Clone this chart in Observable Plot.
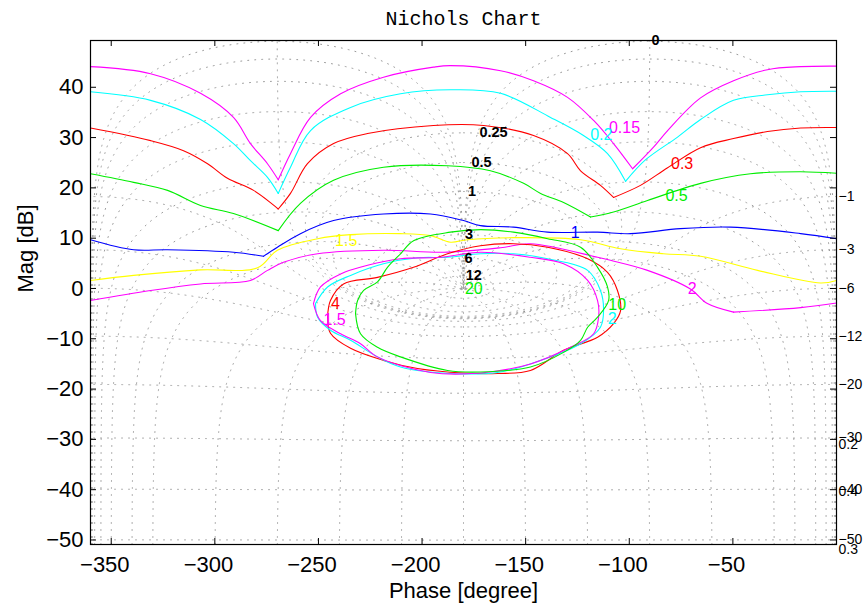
<!DOCTYPE html>
<html>
<head>
<meta charset="utf-8">
<script src="https://cdn.jsdelivr.net/npm/d3@7"></script>
<script src="https://cdn.jsdelivr.net/npm/@observablehq/plot@0.6"></script>
<style>
  body { margin: 0; background: #fff; }
  #chart svg { display: block; }
</style>
</head>
<body>
<div id="chart"></div>
<script>
// ---- open-loop frequency responses (phase in degrees, magnitude in dB), one pair per gain ----
const k015Phase = [-360, -331.0, -306.9, -291.0, -282.8, -274.6, -269.4, -263.5, -253.8, -239.3, -218.6, -194.5, -186.3, -162.1, -146.2, -129.8, -117.2, -107.6, -98.4, -88.3, -81.5, -65.6, -49.7, -33.3, -17.3, 0];
const k015Mag   = [44.1, 42.7, 38.8, 34.0, 28.8, 24.8, 21.6, 26.8, 34.0, 38.7, 42.0, 44.0, 44.3, 43.3, 41.3, 38.0, 33.4, 28.8, 23.8, 28.1, 31.4, 37.9, 41.3, 43.5, 44.1, 44.2];

const k02Phase = [-360, -331.0, -306.9, -291.0, -282.8, -274.6, -269.4, -263.5, -253.8, -234.5, -210.4, -186.3, -162.1, -138.0, -122.1, -110.5, -101.8, -92.1, -76.7, -65.6, -49.7, -33.3, -17.3, 0];
const k02Mag   = [39.1, 37.4, 33.6, 28.8, 25.4, 22.1, 18.9, 24.1, 31.4, 36.0, 38.7, 39.5, 38.8, 34.0, 30.4, 26.8, 21.3, 25.6, 30.1, 33.6, 37.4, 38.5, 39.1, 39.2];

const k03Phase = [-360, -331.0, -315.1, -303.5, -293.9, -281.3, -269.4, -263.5, -255.3, -242.7, -226.3, -194.5, -170.3, -146.2, -129.8, -123.5, -113.9, -107.6, -94.6, -81.5, -65.6, -49.7, -33.3, -17.3, 0];
const k03Mag   = [31.9, 29.4, 27.4, 24.8, 21.9, 19.5, 15.8, 18.9, 24.8, 28.8, 30.8, 32.4, 32.4, 30.4, 26.8, 23.4, 20.5, 18.1, 20.5, 24.0, 28.0, 29.8, 31.2, 31.9, 32.0];

const k05Phase = [-360, -339.2, -322.8, -306.9, -291.0, -269.4, -258.7, -242.7, -218.6, -187.7, -167.0, -151.0, -142.8, -131.7, -118.7, -107.6, -91.2, -65.6, -41.5, -17.3, 0];
const k05Mag   = [22.8, 21.1, 19.5, 16.5, 14.9, 11.5, 16.9, 21.5, 24.1, 24.4, 23.4, 20.9, 18.9, 17.1, 14.2, 15.2, 17.5, 20.9, 22.8, 23.2, 22.9];

const k1Phase = [-360, -339.2, -322.8, -291.0, -276.5, -269.8, -258.7, -242.7, -218.6, -195.9, -180.0, -171.8, -155.9, -139.4, -115.3, -99.4, -75.3, -51.1, -17.3, 0];
const k1Mag   = [9.7, 7.7, 7.7, 7.2, 6.4, 8.2, 10.9, 13.5, 14.8, 14.8, 13.5, 12.5, 12.2, 11.2, 11.2, 10.9, 11.9, 12.2, 10.9, 9.9];

const k15Phase = [-360, -339.2, -306.9, -279.4, -269.8, -250.4, -234.5, -210.4, -195.9, -186.3, -178.1, -155.9, -123.5, -104.2, -83.5, -65.6, -38.1, -7.7, 0];
const k15Mag   = [1.6, 2.6, 3.7, 4.1, 7.6, 9.9, 10.7, 10.9, 10.5, 9.2, 9.7, 10.1, 9.7, 7.9, 6.9, 6.4, 3.6, 1.1, 1.6];

const k2Phase = [-360, -331.0, -306.9, -282.8, -274.6, -266.9, -250.4, -218.6, -189.6, -162.1, -147.7, -115.3, -109.1, -91.2, -70.5, -62.3, -49.7, -17.3, 0];
const k2Mag   = [-2.4, -0.4, 0.9, 1.6, 3.6, 5.2, 6.9, 7.6, 7.2, 8.1, 8.9, 6.2, 5.6, 3.6, -0.1, -3.0, -4.7, -3.8, -2.9];

// ---- closed loci around the critical point ----
const loop4Phase = [-245.6, -244.2, -237.9, -221.5, -204.1, -187.7, -171.8, -155.9, -139.4, -120.1, -110.5, -105.7, -104.2, -107.6, -115.3, -131.7, -147.7, -163.6, -180.0, -202.2, -218.6, -234.5, -244.2, -245.6];
const loop4Mag   = [-5.7, -2.4, 0.9, 2.2, 4.2, 6.9, 8.5, 8.9, 8.2, 5.9, 3.2, -0.4, -4.4, -7.0, -9.7, -12.3, -16.3, -16.9, -16.8, -15.9, -14.3, -11.9, -8.9, -5.7];

const loop2Phase = [-251.4, -245.6, -234.5, -218.6, -202.2, -187.7, -171.8, -155.9, -139.4, -120.1, -113.9, -112.4, -113.9, -123.5, -147.7, -163.6, -186.3, -210.4, -221.5, -234.5, -244.2, -250.4, -251.4];
const loop2Mag   = [-3.0, 0.3, 2.6, 4.9, 6.1, 6.2, 6.9, 6.9, 5.9, 3.6, -0.4, -4.4, -7.7, -11.0, -15.0, -16.7, -16.9, -15.6, -13.6, -10.3, -8.3, -5.7, -3.0];

const loop15Phase = [-252.4, -249.0, -239.3, -226.3, -210.4, -191.1, -171.8, -147.7, -131.7, -120.1, -115.3, -114.8, -117.2, -128.4, -147.7, -171.8, -195.9, -221.5, -229.7, -239.3, -249.0, -252.4];
const loop15Mag   = [-3.0, 0.3, 2.9, 4.6, 5.9, 6.2, 7.2, 6.2, 4.9, 1.6, -2.4, -5.7, -9.0, -11.7, -15.0, -16.8, -16.7, -13.6, -11.0, -9.0, -6.4, -3.0];

const loop10Phase = [-232.1, -231.1, -228.2, -221.5, -216.7, -210.4, -204.1, -186.3, -171.8, -155.9, -139.4, -123.5, -115.3, -110.5, -110.0, -115.3, -120.1, -123.5, -131.7, -147.7, -171.8, -187.7, -210.4, -221.5, -229.7, -232.1];
const loop10Mag   = [-5.0, -2.4, -0.4, 1.3, 4.2, 6.9, 9.5, 11.2, 11.7, 11.2, 9.9, 8.2, 4.2, 0.3, -2.4, -5.7, -7.7, -10.3, -12.7, -15.6, -16.6, -16.3, -13.6, -11.7, -9.0, -5.0];

// ---- curve annotations ----
const curveLabelText  = ["0.15", "0.2", "0.3", "0.5", "1", "1.5", "2", "4", "1.5", "2", "10", "20"];
const curveLabelPhase = [-102.3, -113.5, -74.5, -77.2, -126.1, -236.6, -69.6, -241.8, -242.2, -108.2, -105.8, -175.0];
const curveLabelMag   = [31.9, 30.6, 24.8, 18.5, 11.1, 9.5, -0.1, -3.0, -6.2, -6.0, -3.2, 0.0];
const curveLabelColor = ["#ff00ff", "#00ffff", "#ff0000", "#00ee00", "#0000ff", "#ffff00", "#ff00ff", "#ff0000", "#ff00ff", "#00ffff", "#00ee00", "#00ee00"];

// ---- Nichols grid: closed-loop magnitudes (dB) and closed-loop phases (deg) ----
const gridMagDb = [0.25, 0.5, 1, 3, 6, 12, 0, -1, -3, -6, -12, -20, -30, -40, -50];
const gridPhaseDeg = [0.2, 0.3, 0.5, 1, 2, 5, 10, 20, 30, 60, 90, 120, 150, 180];
const gridTopLabelDb = [0.25, 0.5, 1, 3, 6, 12];
const gridTopLabelPhase = [-165.5, -171.3, -175.9, -177.3, -177.6, -175.0];
const gridSideLabelDb = [-1, -3, -6, -12, -20, -30, -40, -50];
const gridEdgeLabelText = ["0.2", "0.4", "0.3"];
const gridEdgeLabelMag = [-31.0, -40.4, -51.8];

// ---- axes ----
const xTicks = [-350, -300, -250, -200, -150, -100, -50];
const yTicks = [-50, -40, -30, -20, -10, 0, 10, 20, 30, 40];
const xDomain = [-360, 0];
const yDomain = [-50.9, 49.3];

const minus = d => (d < 0 ? "\u2212" + Math.abs(d) : String(d));

// open loop G = T/(1-T) for closed loop T = M e^{jc}
function openLoop(M, cDeg) {
  const c = cDeg * Math.PI / 180;
  const re = 1 - M * Math.cos(c), im = -M * Math.sin(c);
  const arg = Math.atan2(im, re) * 180 / Math.PI;
  return [cDeg - arg, 20 * Math.log10(M / Math.hypot(re, im))];
}

// split a polyline where it leaves the magnitude range
function clipRuns(points, lo, hi) {
  const runs = [];
  let cur = [];
  const inside = p => isFinite(p[1]) && p[1] >= lo && p[1] <= hi;
  for (let i = 0; i < points.length; i++) {
    const p = points[i];
    if (inside(p)) {
      if (!cur.length && i > 0 && isFinite(points[i - 1][1])) {
        const q = points[i - 1], edge = q[1] > hi ? hi : lo;
        const t = (edge - q[1]) / (p[1] - q[1]);
        cur.push([q[0] + t * (p[0] - q[0]), edge]);
      }
      cur.push(p);
    } else if (cur.length) {
      if (isFinite(p[1])) {
        const q = points[i - 1], edge = p[1] > hi ? hi : lo;
        const t = (edge - q[1]) / (p[1] - q[1]);
        cur.push([q[0] + t * (p[0] - q[0]), edge]);
      }
      runs.push(cur);
      cur = [];
    }
  }
  if (cur.length) runs.push(cur);
  return runs;
}

const gridRows = [];
let runId = 0;
function addRuns(points) {
  for (const run of clipRuns(points, yDomain[0], yDomain[1])) {
    runId++;
    for (const [phase, db] of run) gridRows.push({phase, db, id: runId});
  }
}

// constant closed-loop magnitude contours
const N = 3000;
for (const mdb of gridMagDb) {
  const M = Math.pow(10, mdb / 20);
  const pts = [];
  for (let i = 1; i < N; i++) {
    const t = i / N;
    const s = t - Math.sin(2 * Math.PI * t) / (2 * Math.PI);
    pts.push(openLoop(M, -360 * s));
  }
  addRuns(pts);
}

// constant closed-loop phase contours
const mSamples = [];
for (let i = 0; i <= 2000; i++) mSamples.push(Math.pow(10, -3 + 6 * i / 2000));
for (let i = 0; i <= 3000; i++) mSamples.push(0.9 + 0.2 * i / 3000);
mSamples.sort((a, b) => a - b);
for (const psi of gridPhaseDeg) {
  const sides = psi === 180 ? [-180] : [-psi, -360 + psi];
  for (const c of sides) addRuns(mSamples.map(M => openLoop(M, c)));
}

// response curves as rows; open curves are split at sharp minima so the cusps stay pointed
const curves = [
  ["a", "#ff00ff", k015Phase, k015Mag, false],
  ["b", "#00ffff", k02Phase, k02Mag, false],
  ["c", "#ff0000", k03Phase, k03Mag, false],
  ["d", "#00ee00", k05Phase, k05Mag, false],
  ["e", "#0000ff", k1Phase, k1Mag, false],
  ["f", "#ffff00", k15Phase, k15Mag, false],
  ["g", "#ff00ff", k2Phase, k2Mag, false],
  ["h", "#ff0000", loop4Phase, loop4Mag, true],
  ["i", "#00ffff", loop2Phase, loop2Mag, true],
  ["j", "#ff00ff", loop15Phase, loop15Mag, true],
  ["k", "#00ee00", loop10Phase, loop10Mag, true]
];
const curveRows = [];
for (const [id, color, ph, mg, closed] of curves) {
  let piece = 0;
  for (let i = 0; i < ph.length; i++) {
    curveRows.push({id: id + piece, color, phase: ph[i], db: mg[i]});
    const cusp = !closed && i > 0 && i < ph.length - 1 && mg[i] < mg[i - 1] - 0.7 && mg[i] < mg[i + 1] - 0.7;
    if (cusp) {
      piece++;
      curveRows.push({id: id + piece, color, phase: ph[i], db: mg[i]});
    }
  }
}

const curveLabels = curveLabelText.map((text, i) => ({text, phase: curveLabelPhase[i], db: curveLabelMag[i], color: curveLabelColor[i]}));
const topLabels = gridTopLabelDb.map((d, i) => {
  const M = Math.pow(10, d / 20);
  return {text: String(d), phase: gridTopLabelPhase[i], db: 20 * Math.log10(M / (M - 1))};
});
const sideLabels = gridSideLabelDb.map(d => {
  const M = Math.pow(10, d / 20);
  return {text: minus(d), phase: 0, db: 20 * Math.log10(M / (1 - M))};
});
const edgeLabels = gridEdgeLabelText.map((text, i) => ({text, phase: 0, db: gridEdgeLabelMag[i]}));

const frameW = 863 - 90 - 27, frameH = 603 - 40 - 59;

const chart = Plot.plot({
  width: 863,
  height: 603,
  marginLeft: 90,
  marginRight: 27,
  marginTop: 40,
  marginBottom: 59,
  x: {domain: xDomain, axis: null},
  y: {domain: yDomain, axis: null},
  style: {fontFamily: "'Liberation Sans', Arial, Helvetica, sans-serif", background: "#fff", overflow: "visible", color: "black"},
  marks: [
    Plot.line(gridRows, {x: "phase", y: "db", z: "id", stroke: "#9a9a9a", strokeWidth: 1, strokeDasharray: "1,6", curve: "linear"}),
    Plot.line(curveRows, {x: "phase", y: "db", z: "id", stroke: "color", strokeWidth: 1.1, curve: "catmull-rom"}),
    Plot.text(curveLabels, {x: "phase", y: "db", text: "text", fill: "color", fontSize: 16}),
    Plot.text(topLabels, {x: "phase", y: "db", text: "text", fill: "black", fontSize: 14.5, fontWeight: "bold"}),
    Plot.text(["0"], {x: -87.3, y: yDomain[1], fill: "black", fontSize: 14.5, fontWeight: "bold"}),
    Plot.text(sideLabels, {x: "phase", y: "db", text: "text", fill: "black", fontSize: 14, textAnchor: "start", dx: 2}),
    Plot.text(edgeLabels, {x: "phase", y: "db", text: "text", fill: "black", fontSize: 14, textAnchor: "start", dx: 2}),
    Plot.frame({stroke: "black", strokeWidth: 1.2}),
    // inward tick marks on all four sides
    Plot.tickX(xTicks, {x: d => d, insetTop: frameH - 6, stroke: "black"}),
    Plot.tickX(xTicks, {x: d => d, insetBottom: frameH - 6, stroke: "black"}),
    Plot.tickY(yTicks, {y: d => d, insetRight: frameW - 6, stroke: "black"}),
    Plot.tickY(yTicks, {y: d => d, insetLeft: frameW - 6, stroke: "black"}),
    // digits centred on the tick, the minus sign hanging to the left
    Plot.axisX({ticks: xTicks, anchor: "bottom", tickSize: 0, tickPadding: 12, fontSize: 22, tickFormat: minus, label: null, dx: -6.4}),
    Plot.axisY({ticks: yTicks, anchor: "left", tickSize: 0, tickPadding: 7, fontSize: 22, tickFormat: minus, label: null}),
    Plot.text(["Phase [degree]"], {frameAnchor: "bottom", lineAnchor: "middle", dy: 46, fontSize: 22}),
    Plot.text(["Mag [dB]"], {frameAnchor: "left", dx: -65, rotate: -90, fontSize: 22}),
    Plot.text(["Nichols Chart"], {frameAnchor: "top", lineAnchor: "middle", dy: -22, fontSize: 20, fontFamily: "'Liberation Mono', 'DejaVu Sans Mono', monospace"})
  ]
});
document.getElementById("chart").appendChild(chart);
</script>
</body>
</html>
